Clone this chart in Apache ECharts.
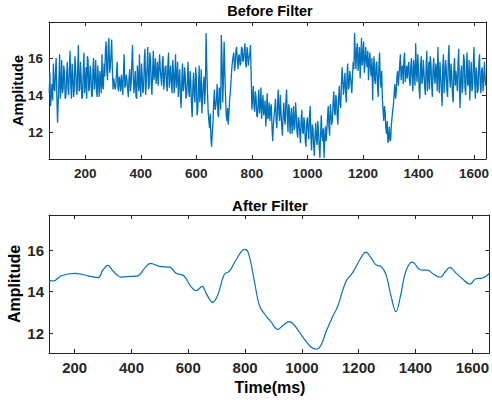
<!DOCTYPE html>
<html>
<head>
<meta charset="utf-8">
<script src="https://cdn.jsdelivr.net/npm/echarts@6/dist/echarts.min.js"></script>
<style>
html,body{margin:0;padding:0;background:#fff;}
#chart{width:492px;height:403px;}
</style>
</head>
<body>
<div id="chart"></div>
<script>
// ---- Data ----
const titles = ['Before Filter', 'After Filter'];
const yLabel = 'Amplitude';
const xLabel = 'Time(ms)';
const xTicks = [200, 400, 600, 800, 1000, 1200, 1400, 1600];
const yTicks = [12, 14, 16];

// raw signal: samples at 70, 75, 80 ... ms
const beforeStart = 70;
const beforeStep = 5;
const beforeValues = [
  14.1, 13.4, 14.6, 15.7, 14.2, 16.0, 12.5, 14.8, 13.8, 15.9, 14.3, 15.2, 13.9, 15.8, 14.0, 16.4, 13.8, 15.1, 14.2, 15.5,
  14.0, 16.7, 14.3, 15.0, 13.9, 16.3, 14.6, 13.8, 15.9, 14.4, 15.2, 13.9, 16.0, 14.8, 14.2, 15.6, 13.9, 14.9, 16.2, 14.3,
  15.0, 16.9, 14.8, 17.1, 15.5, 17.0, 14.3, 14.9, 14.5, 15.8, 14.2, 14.7, 15.1, 14.0, 16.2, 14.5, 14.8, 13.9, 15.4, 14.6,
  16.7, 14.1, 15.3, 13.8, 14.9, 16.2, 13.9, 15.0, 14.3, 16.5, 14.8, 16.6, 14.5, 15.9, 14.0, 16.4, 15.2, 14.6, 15.8, 15.3,
  15.4, 14.5, 16.1, 14.8, 15.6, 14.2, 16.3, 15.0, 14.6, 15.9, 14.1, 16.2, 14.9, 13.9, 15.4, 13.3, 15.7, 14.4, 15.1, 14.0,
  15.8, 13.9, 14.7, 12.8, 15.2, 13.6, 14.9, 13.2, 15.6, 14.1, 13.0, 14.6, 13.5, 17.35, 14.2, 12.6, 13.0, 11.2, 12.5, 14.3,
  13.4, 14.6, 12.8, 14.2, 17.25, 13.6, 16.9, 14.0, 12.6, 12.4, 13.8, 14.8, 15.8, 16.3, 15.6, 16.6, 15.4, 16.2, 15.7, 16.5,
  15.9, 16.8, 15.5, 16.3, 16.0, 16.7, 13.2, 14.5, 13.1, 13.9, 12.8, 14.3, 13.4, 12.7, 14.0, 13.2, 12.3, 14.1, 12.9, 12.6,
  13.5, 11.5, 12.9, 13.8, 12.2, 14.3, 12.6, 13.1, 11.8, 13.6, 12.4, 14.3, 12.0, 13.2, 12.7, 11.9, 13.4, 12.3, 12.9, 11.7,
  12.6, 11.4, 13.2, 11.9, 12.4, 11.2, 12.8, 11.6, 13.4, 11.0, 12.2, 10.7, 12.5, 11.3, 12.0, 10.6, 12.9, 11.5, 10.6, 12.3,
  12.1, 13.4, 11.8, 13.0, 12.6, 14.2, 12.9, 13.7, 12.4, 14.5, 13.3, 15.5, 14.0, 15.2, 13.6, 15.7, 14.4, 15.0, 14.1, 15.8,
  17.35, 15.4, 16.8, 15.9, 14.9, 17.1, 16.0, 15.2, 16.6, 15.5, 14.8, 16.3, 15.0, 13.7, 16.1, 14.6, 15.8, 13.9, 16.3, 14.4,
  13.8, 12.6, 13.1, 11.9, 11.4, 12.3, 11.6, 12.8, 13.5, 14.6, 14.2, 15.3, 15.0, 16.2, 15.4, 14.6, 16.3, 15.1, 14.9, 15.8,
  14.5, 16.0, 14.2, 15.3, 16.8, 14.7, 15.5, 13.8, 16.1, 14.9, 15.2, 14.0, 16.4, 15.0, 14.3, 15.7, 13.9, 16.0, 14.6, 15.4,
  16.6, 14.1, 15.0, 13.4, 16.2, 14.8, 15.5, 13.9, 16.7, 14.4, 15.1, 13.6, 16.0, 15.3, 14.2, 16.5, 13.3, 15.6, 14.5, 15.9,
  14.0, 16.3, 14.7, 13.7, 15.8, 14.4, 16.6, 13.8, 15.2, 14.3, 16.2, 14.1, 15.5, 14.6, 15.0
];
// raw signal: in-between samples at 72.5, 77.5, 82.5 ... ms
const beforeMidValues = [
  15.2, 14.0, 13.7, 14.4, 15.3, 13.9, 13.6, 16.2, 14.5, 14.1, 15.6, 13.8, 15.0, 14.4, 15.3, 14.6, 15.7, 13.9, 16.1, 14.4,
  15.4, 14.2, 15.8, 13.8, 15.2, 14.1, 15.5, 16.1, 14.2, 15.6, 14.0, 15.4, 14.3, 15.9, 13.9, 14.7, 15.3, 14.1, 14.5, 15.7,
  16.4, 15.3, 16.6, 15.2, 16.2, 15.4, 14.9, 14.3, 15.2, 14.4, 15.0, 14.2, 14.6, 15.3, 14.4, 15.1, 14.3, 14.9, 14.2, 15.7,
  15.0, 14.7, 13.9, 15.6, 14.2, 14.5, 15.7, 14.1, 15.9, 14.0, 15.5, 14.3, 16.3, 14.6, 15.3, 14.8, 16.0, 15.1, 14.5, 16.2,
  14.9, 15.8, 14.3, 15.5, 14.6, 15.7, 14.4, 15.6, 14.1, 15.2, 15.0, 14.4, 15.8, 14.7, 14.0, 14.8, 14.2, 15.5, 13.8, 14.7,
  14.2, 15.3, 13.4, 14.5, 14.0, 15.5, 12.9, 14.4, 13.6, 15.4, 13.8, 15.0, 14.4, 15.5, 13.1, 12.2, 11.6, 12.0, 13.7, 13.2,
  13.8, 13.0, 14.4, 13.2, 16.0, 14.8, 15.2, 12.9, 13.3, 13.0, 14.2, 15.4, 16.1, 15.3, 16.4, 15.9, 16.1, 15.6, 16.6, 15.8,
  16.4, 15.7, 16.6, 15.6, 16.2, 15.0, 13.8, 13.4, 14.2, 12.9, 13.6, 13.0, 14.4, 13.5, 12.9, 13.7, 13.0, 12.7, 13.6, 13.3,
  12.2, 12.4, 13.3, 12.6, 13.5, 13.0, 14.0, 12.3, 12.9, 12.7, 13.7, 12.8, 13.5, 11.9, 13.3, 12.6, 12.1, 13.6, 12.0, 12.8,
  11.9, 12.7, 12.0, 12.8, 11.5, 12.5, 12.1, 12.9, 11.7, 12.4, 11.3, 11.8, 11.6, 12.6, 11.2, 11.9, 11.8, 12.2, 11.7, 11.5,
  12.8, 12.3, 13.5, 12.4, 13.6, 13.1, 14.0, 12.8, 13.9, 13.5, 14.6, 14.7, 14.6, 14.2, 15.0, 14.3, 15.3, 14.6, 15.1, 15.4,
  16.2, 16.5, 15.3, 16.6, 16.0, 15.6, 16.9, 15.7, 15.9, 16.4, 15.8, 15.3, 16.0, 15.4, 14.8, 15.7, 14.5, 15.6, 14.9, 15.3,
  13.2, 13.4, 12.2, 12.6, 11.7, 11.5, 12.4, 13.2, 14.1, 13.8, 15.0, 14.5, 15.7, 14.8, 15.6, 15.9, 14.7, 15.6, 15.4, 14.8,
  15.6, 14.8, 15.9, 14.5, 15.3, 16.2, 14.3, 15.6, 14.6, 15.9, 14.4, 15.5, 14.2, 15.8, 16.1, 14.6, 15.4, 14.9, 15.7, 14.2,
  15.2, 15.8, 14.3, 15.5, 14.1, 15.9, 14.2, 16.0, 14.9, 15.7, 14.0, 15.4, 14.5, 14.8, 15.7, 14.3, 15.2, 14.1, 16.2, 14.4,
  15.4, 14.5, 15.9, 14.9, 14.2, 15.6, 14.8, 15.5, 14.1, 15.7, 14.6, 15.3, 14.2, 15.8, 14.5
];

// filtered signal
const afterTime = [110, 125, 153, 200, 235, 259, 282, 300, 317, 335, 364, 399, 423, 446, 467, 499, 534, 557, 584, 610,
  628, 649, 663, 686, 704, 727, 745, 768, 798, 812, 833, 850, 868, 891, 915, 932, 956, 973, 1003, 1032,
  1052, 1067, 1085, 1108, 1126, 1155, 1178, 1208, 1225, 1243, 1260, 1280, 1296, 1313, 1331, 1348, 1366, 1389, 1419, 1442,
  1465, 1487, 1506, 1521, 1542, 1565, 1592, 1612, 1635, 1660];
const afterValues = [14.54, 14.51, 14.76, 14.88, 14.80, 14.72, 14.67, 15.04, 15.26, 14.99, 14.70, 14.73, 14.76, 15.12, 15.36, 15.21, 15.18, 14.88, 14.76, 14.23,
  14.04, 14.25, 13.91, 13.48, 13.83, 14.83, 14.99, 15.52, 16.03, 15.84, 14.48, 13.35, 12.93, 12.55, 12.18, 12.35, 12.55, 12.39, 11.82, 11.33,
  11.22, 11.41, 12.06, 12.79, 13.28, 14.49, 14.90, 15.63, 15.90, 15.63, 15.30, 15.19, 14.82, 13.84, 13.03, 13.84, 14.98, 15.42, 15.04, 15.03,
  14.82, 14.69, 14.98, 15.17, 14.90, 14.62, 14.36, 14.62, 14.65, 14.87];

const topX = [69.2, 1643];
const topY = [10.54, 17.95];
const botX = [109.7, 1660];
const botY = [11.04, 17.69];

// ---- Build ----
const beforeData = [];
beforeValues.forEach((v, i) => {
  const t = beforeStart + i * beforeStep;
  beforeData.push([t, v]);
  if (i < beforeMidValues.length) beforeData.push([t + beforeStep / 2, beforeMidValues[i]]);
});
const afterData = afterValues.map((v, i) => [afterTime[i], v]);

const FONT = '"Liberation Sans", Arial, Helvetica, sans-serif';
const AX = '#262626';
const LINE = '#0072BD';

function xAx(gi, range, pos, show, fs) {
  return {
    type: 'value', gridIndex: gi, position: pos, min: range[0], max: range[1],
    axisLine: { show: true, onZero: false, lineStyle: { color: AX, width: 1 } },
    axisTick: { show: true, inside: true, length: 4, customValues: xTicks, lineStyle: { color: AX } },
    axisLabel: { show: show, customValues: xTicks, margin: 7, color: AX, fontFamily: FONT, fontWeight: 'bold', fontSize: fs,
      formatter: v => String(v) },
    splitLine: { show: false }
  };
}
function yAx(gi, range, pos, show, fs, margin) {
  return {
    type: 'value', gridIndex: gi, position: pos, min: range[0], max: range[1],
    axisLine: { show: true, onZero: false, lineStyle: { color: AX, width: 1 } },
    axisTick: { show: true, inside: true, length: 4, customValues: yTicks, lineStyle: { color: AX } },
    axisLabel: { show: show, customValues: yTicks, margin: margin, color: AX, fontFamily: FONT, fontWeight: 'bold', fontSize: fs,
      formatter: v => String(v) },
    splitLine: { show: false }
  };
}

function txt(text, x, y, fs, rot) {
  return {
    type: 'text', x: x, y: y, rotation: rot || 0,
    style: { text: text, fill: '#000', fontFamily: FONT, fontWeight: 'bold', fontSize: fs, align: 'center', verticalAlign: 'middle' }
  };
}

const chart = echarts.init(document.getElementById('chart'), null, { renderer: 'svg', width: 492, height: 403 });
chart.setOption({
  animation: false,
  backgroundColor: '#fff',
  grid: [
    { left: 49, right: 1, top: 22, height: 137 },
    { left: 49, right: 1, top: 215, height: 138 }
  ],
  xAxis: [
    xAx(0, topX, 'bottom', true, 13.5),
    xAx(0, topX, 'top', false, 13.5),
    xAx(1, botX, 'bottom', true, 15),
    xAx(1, botX, 'top', false, 15)
  ],
  yAxis: [
    yAx(0, topY, 'left', true, 13.5, 6),
    yAx(0, topY, 'right', false, 13.5, 6),
    yAx(1, botY, 'left', true, 15, 5),
    yAx(1, botY, 'right', false, 15, 5)
  ],
  series: [
    { type: 'line', xAxisIndex: 0, yAxisIndex: 0, data: beforeData, showSymbol: false,
      lineStyle: { color: LINE, width: 1.3 }, itemStyle: { color: LINE } },
    { type: 'line', xAxisIndex: 2, yAxisIndex: 2, data: afterData, showSymbol: false, smooth: 0.4,
      lineStyle: { color: LINE, width: 1.2 }, itemStyle: { color: LINE } }
  ],
  graphic: [
    txt(titles[0], 270, 11, 14.5),
    txt(titles[1], 270, 205, 15),
    txt(yLabel, 17.5, 90.5, 14.5, Math.PI / 2),
    txt(yLabel, 14, 284, 16, Math.PI / 2),
    txt(xLabel, 270, 387, 16)
  ]
});
</script>
</body>
</html>
